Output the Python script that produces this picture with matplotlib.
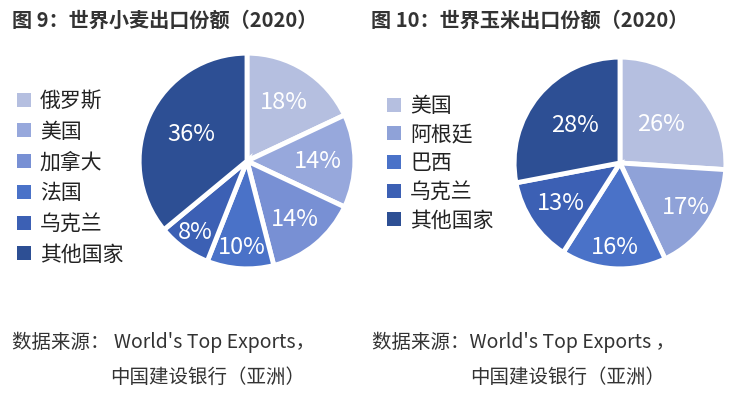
import matplotlib
matplotlib.use("Agg")
import matplotlib.pyplot as plt
import numpy as np

plt.rcParams['font.family'] = ['Noto Sans CJK SC', 'DejaVu Sans']

wheat_labels = ['俄罗斯', '美国', '加拿大', '法国', '乌克兰', '其他国家']
wheat_values = [18, 14, 14, 10, 8, 36]
corn_labels = ['美国', '阿根廷', '巴西', '乌克兰', '其他国家']
corn_values = [26, 17, 16, 13, 28]

wheat_colors = ['#b5bfe0', '#97a8dc', '#7890d4', '#4a72c8', '#3c60b4', '#2d4f94']
corn_colors = ['#b5bfe0', '#8fa2d8', '#4a72c8', '#3c60b4', '#2d4f94']

# label radius (fraction of pie radius) per wedge, style only
wheat_label_r = [0.64, 0.66, 0.70, 0.80, 0.82, 0.57]
corn_label_r = [0.53, 0.75, 0.80, 0.68, 0.55]

W, H = 750, 394
fig = plt.figure(figsize=(7.5, 3.94), dpi=100)
fig.patch.set_facecolor('white')


def px_axes(cx, cy, r):
    return fig.add_axes([(cx - r) / W, (H - cy - r) / H, 2 * r / W, 2 * r / H])


def draw_pie(ax, values, colors, labels, label_r, leg_x, leg_y, spacing):
    wedges, texts, autotexts = ax.pie(
        values, colors=colors, startangle=90, counterclock=False,
        autopct=lambda p: f'{p:.0f}%', pctdistance=0.6,
        wedgeprops=dict(edgecolor='white', linewidth=3.5),
        textprops=dict(color='white', fontsize=17))
    for w, t, r in zip(wedges, autotexts, label_r):
        ang = np.deg2rad((w.theta1 + w.theta2) / 2)
        t.set_position((r * np.cos(ang), r * np.sin(ang)))
    ax.set_xlim(-1.02, 1.02)
    ax.set_ylim(-1.02, 1.02)
    ax.set_aspect('equal')
    ax.axis('off')
    leg = fig.legend(wedges, labels, loc='upper left',
                     bbox_to_anchor=(leg_x / W, 1 - leg_y / H),
                     frameon=False, fontsize=15, handlelength=0.65,
                     handleheight=0.65, handletextpad=0.45,
                     labelspacing=spacing, borderaxespad=0, borderpad=0)
    for t in leg.get_texts():
        t.set_color('#222222')
    for h in leg.legend_handles:
        h.set_edgecolor('none')
    return autotexts


ax1 = px_axes(247, 161, 110)
draw_pie(ax1, wheat_values, wheat_colors, wheat_labels, wheat_label_r, 17, 90, 0.42)

ax2 = px_axes(620, 163, 108)
draw_pie(ax2, corn_values, corn_colors, corn_labels, corn_label_r, 387, 95, 0.32)

fig.text(12 / W, 1 - 20 / H, '图 9：世界小麦出口份额（2020）', fontsize=14.5,
         fontweight='bold', color='#333333', va='center', ha='left')
fig.text(371 / W, 1 - 20 / H, '图 10：世界玉米出口份额（2020）', fontsize=14.5,
         fontweight='bold', color='#333333', va='center', ha='left')

src_color = '#333333'
fig.text(12 / W, 1 - 342 / H, '数据来源： World\'s Top Exports，', fontsize=14,
         color=src_color, va='center', ha='left')
fig.text(110 / W, 1 - 377 / H, '中国建设银行（亚洲）', fontsize=14,
         color=src_color, va='center', ha='left')
fig.text(372 / W, 1 - 342 / H, '数据来源：World\'s Top Exports ，', fontsize=14,
         color=src_color, va='center', ha='left')
fig.text(470 / W, 1 - 377 / H, '中国建设银行（亚洲）', fontsize=14,
         color=src_color, va='center', ha='left')

fig.savefig('out.png', dpi=100, facecolor='white')
